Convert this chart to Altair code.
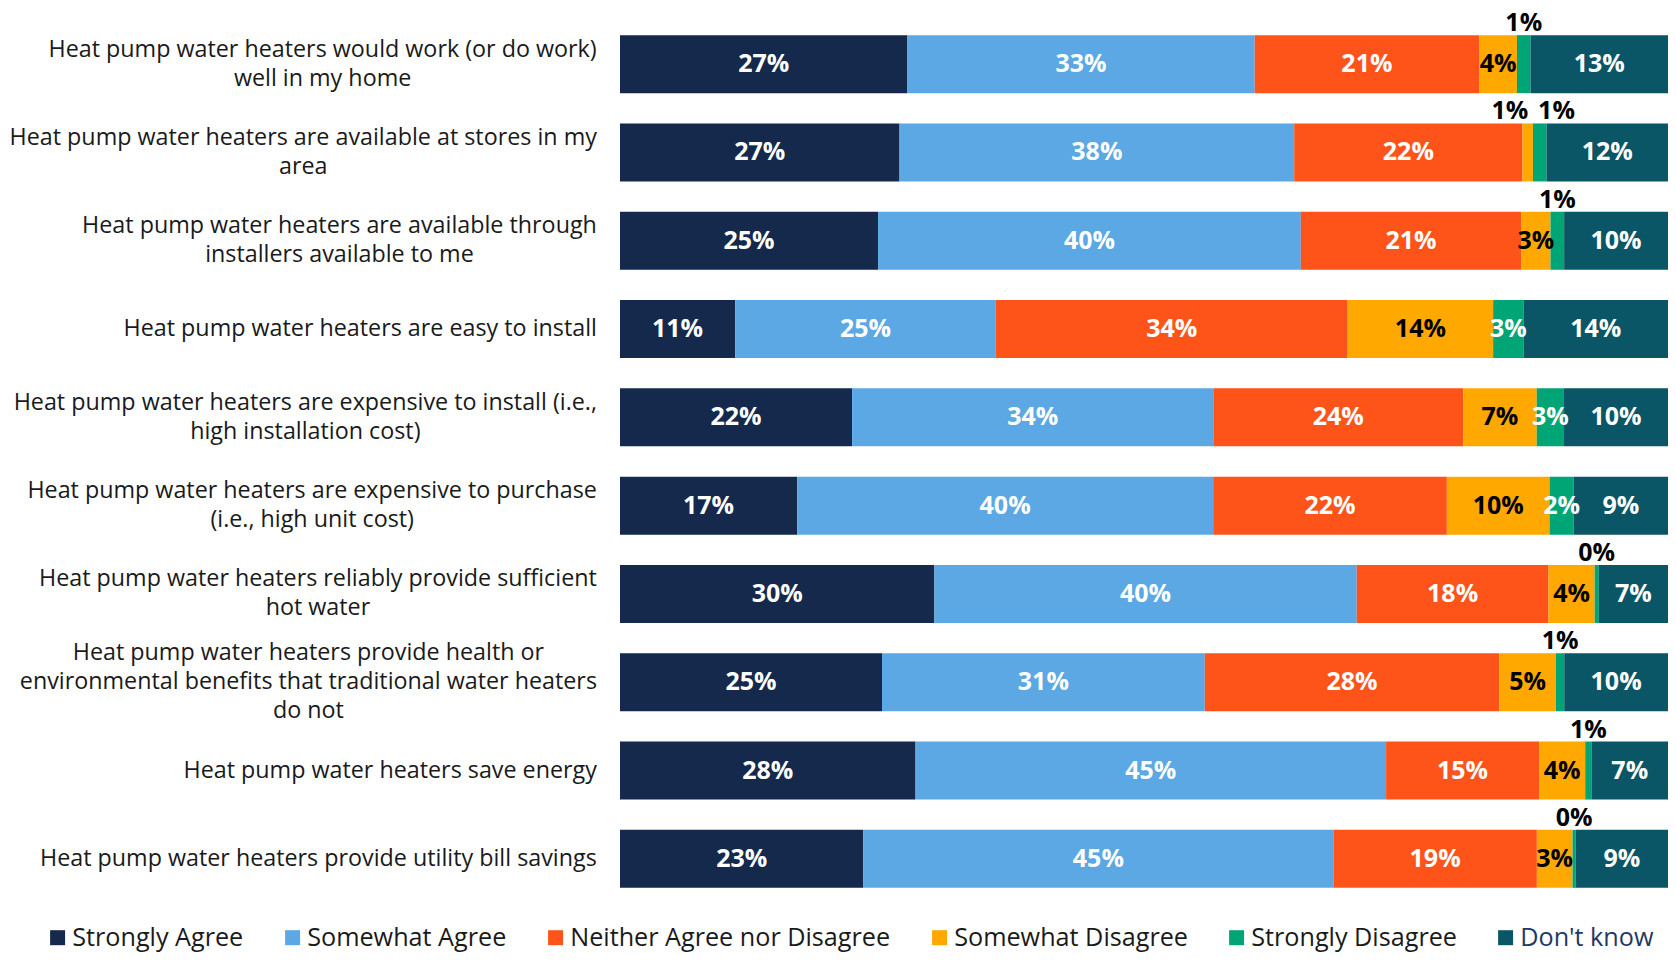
import altair as alt
import pandas as pd

questions = [
    "Heat pump water heaters would work (or do work)\nwell in my home",
    "Heat pump water heaters are available at stores in my\narea",
    "Heat pump water heaters are available through\ninstallers available to me",
    "Heat pump water heaters are easy to install",
    "Heat pump water heaters are expensive to install (i.e.,\nhigh installation cost)",
    "Heat pump water heaters are expensive to purchase\n(i.e., high unit cost)",
    "Heat pump water heaters reliably provide sufficient\nhot water",
    "Heat pump water heaters provide health or\nenvironmental benefits that traditional water heaters\ndo not",
    "Heat pump water heaters save energy",
    "Heat pump water heaters provide utility bill savings",
]

categories = [
    "Strongly Agree",
    "Somewhat Agree",
    "Neither Agree nor Disagree",
    "Somewhat Disagree",
    "Strongly Disagree",
    "Don't know",
]
colors = ["#14294B", "#5BA8E4", "#FF5419", "#FFA800", "#00A575", "#0A5566"]

strongly_agree = [27.4, 26.7, 24.6, 11.0, 22.1, 16.9, 30.0, 25.0, 28.2, 23.2]
somewhat_agree = [33.1, 37.7, 40.3, 24.9, 34.4, 39.7, 40.3, 30.8, 44.9, 44.8]
neither = [21.4, 21.8, 21.0, 33.6, 23.8, 22.3, 18.3, 28.1, 14.6, 19.4]
somewhat_disagree = [3.6, 1.0, 2.8, 13.9, 7.0, 9.8, 4.4, 5.4, 4.4, 3.4]
strongly_disagree = [1.3, 1.3, 1.3, 2.9, 2.6, 2.3, 0.4, 0.8, 0.6, 0.3]
dont_know = [13.1, 11.6, 9.9, 13.8, 9.9, 9.0, 6.6, 9.9, 7.3, 8.8]

series = [strongly_agree, somewhat_agree, neither, somewhat_disagree,
          strongly_disagree, dont_know]

FONT = "Open Sans"
LABEL_SIZE = 23.3
W = 1048
H = 883

# approximate Open Sans advance widths (em) to centre wrapped labels
ADV = {" ": .26, "a": .556, "b": .613, "c": .476, "d": .613, "e": .561,
       "f": .339, "g": .548, "h": .614, "i": .253, "j": .253, "k": .525,
       "l": .253, "m": .930, "n": .614, "o": .604, "p": .613, "q": .613,
       "r": .408, "s": .477, "t": .353, "u": .614, "v": .501, "w": .778,
       "x": .524, "y": .502, "z": .462, "H": .738, "(": .295, ")": .295,
       ".": .266, ",": .244}


def text_width(s):
    return sum(ADV.get(ch, 0.56) for ch in s) * LABEL_SIZE


rows = []
for qi, q in enumerate(questions):
    for ci, c in enumerate(categories):
        rows.append({"question": q, "qi": qi, "category": c, "ci": ci,
                     "value": series[ci][qi]})
df = pd.DataFrame(rows)

qrows = []
for q in questions:
    lines = q.split("\n")
    qrows.append({"question": q, "nlines": len(lines),
                  "maxw": max(text_width(l) for l in lines)})
qdf = pd.DataFrame(qrows)

yscale = alt.Scale(domain=questions, paddingInner=0.343, paddingOuter=0.1715)
xscale = alt.Scale(domain=[0, 1], nice=False, zero=False)
Y = alt.Y("question:N", scale=yscale, axis=None)

base = (
    alt.Chart(df)
    .transform_stack(stack="value", as_=["x0", "x1"], groupby=["question"],
                     sort=[alt.SortField("ci", order="ascending")],
                     offset="normalize")
    .transform_calculate(
        mid="(datum.x0 + datum.x1) / 2",
        lbl="format(datum.value, '.0f') + '%'",
        issmall="datum.value < 1.5 ? 1 : 0",
    )
)

bars = base.mark_bar(stroke=None).encode(
    x=alt.X("x0:Q", scale=xscale, axis=None),
    x2="x1:Q",
    y=Y,
    color=alt.Color(
        "category:N",
        scale=alt.Scale(domain=categories, range=colors),
        legend=alt.Legend(
            title=None,
            orient="none",
            direction="horizontal",
            legendX=-575,
            legendY=905,
            symbolType="square",
            symbolSize=225,
            symbolStrokeWidth=0,
            symbolOpacity=1,
            labelFont=FONT,
            labelFontSize=25.2,
            labelColor=alt.ExprRef("datum.label == \"Don't know\" ? '#1F3864' : '#1a1a1a'"),
            labelOffset=2,
            columnPadding=36,
            labelLimit=600,
        ),
    ),
)

inside = base.transform_filter("datum.value >= 1.5").mark_text(
    font=FONT, fontSize=25, fontWeight="bold", baseline="middle", align="center"
).encode(
    x=alt.X("mid:Q", scale=xscale),
    y=Y,
    text="lbl:N",
    color=alt.condition(alt.datum.category == "Somewhat Disagree",
                        alt.value("#000000"), alt.value("#ffffff")),
)

above = (
    base.transform_joinaggregate(nsmall="sum(issmall)", groupby=["question"])
    .transform_filter("datum.value < 1.5")
    .transform_calculate(
        pos="datum.mid + (datum.nsmall > 1 ? (datum.ci == 3 ? -0.017 : 0.016) : 0)"
    )
    .mark_text(font=FONT, fontSize=25, fontWeight="bold", baseline="middle",
               align="center", dy=-41, color="#000000")
    .encode(x=alt.X("pos:Q", scale=xscale), y=Y, text="lbl:N")
)

LH = 29
label_base = (
    alt.Chart(qdf)
    .transform_calculate(lines="split(datum.question, '\\n')")
    .transform_calculate(lx=f"(-23 - datum.maxw / 2) / {W}")
)


def label_layer(n):
    return (
        label_base.transform_filter(f"datum.nlines == {n}")
        .mark_text(font=FONT, fontSize=LABEL_SIZE, align="center",
                   baseline="middle", lineHeight=LH, color="#1a1a1a",
                   dy=-(n - 1) * LH / 2)
        .encode(x=alt.X("lx:Q", scale=xscale), y=Y, text="lines:N")
    )


chart = (
    alt.layer(bars, inside, above, label_layer(1), label_layer(2), label_layer(3))
    .properties(
        width=W,
        height=H,
        padding={"left": 612, "top": 12, "right": 0, "bottom": 51},
        autosize="none",
        background="white",
    )
    .configure_view(stroke=None)
)

chart.save("out.html", embed_options={"renderer": "svg", "actions": False})
